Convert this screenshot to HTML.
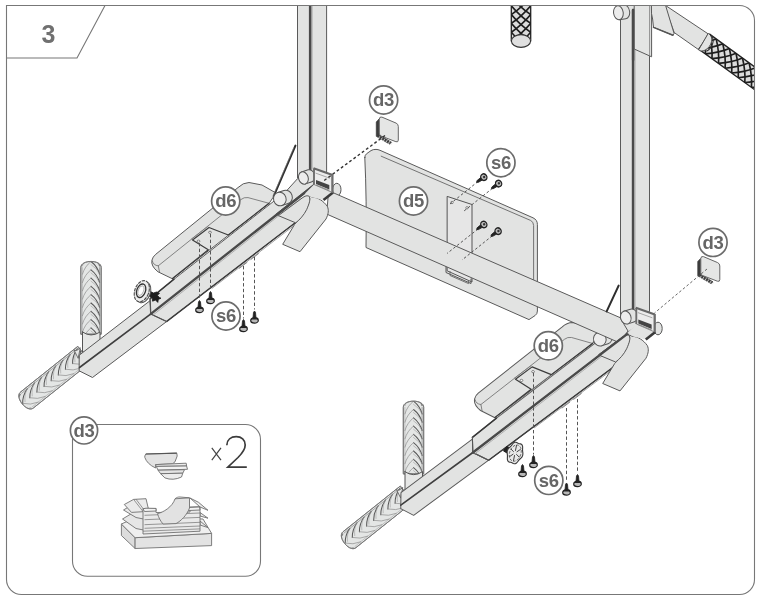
<!DOCTYPE html>
<html><head><meta charset="utf-8"><title>Step 3</title>
<style>html,body{margin:0;padding:0;background:#fff;}svg{display:block;}text{-webkit-font-smoothing:antialiased;}</style></head>
<body><svg width="762" height="600" viewBox="0 0 762 600">
<defs><filter id="gaa" x="-10%" y="-10%" width="120%" height="120%"><feColorMatrix type="matrix" values="1 0 0 0 0 0 1 0 0 0 0 0 1 0 0 0 0 0 1 0"/></filter></defs>
<rect width="762" height="600" fill="#fff"/>
<path d="M6.5,5.5 H739.5 A15,15 0 0 1 754.5,20.5 V579.5 A15,15 0 0 1 739.5,594.5 H21.5 A15,15 0 0 1 6.5,579.5 Z" fill="#fff" stroke="#777" stroke-width="1.1"/>
<path d="M6.5,58 H77 L105,5.5" fill="none" stroke="#777" stroke-width="1.1"/>
<text filter="url(#gaa)" x="48.5" y="43" text-anchor="middle" font-family="Liberation Sans, sans-serif" font-weight="bold" font-size="25" fill="#707070">3</text>
<clipPath id="fr"><path d="M7,6 H739.5 A14.5,14.5 0 0 1 754,20.5 V579.5 A14.5,14.5 0 0 1 739.5,594 H21.5 A14.5,14.5 0 0 1 7,579.5 Z"/></clipPath>
<g clip-path="url(#fr)">
<clipPath id="hg1"><path d="M511.3,-3.0 L511.3,41.0 L530.7,41.0 L530.7,-3.0 Z"/></clipPath>
<path d="M511.3,-3.0 L511.3,41.0 L530.7,41.0 L530.7,-3.0 Z" fill="#dcdcdc" stroke="#222" stroke-width="1.3" stroke-linejoin="round" stroke-linecap="round" />
<g clip-path="url(#hg1)" stroke="#1e1e1e" stroke-width="1.65" fill="none">
<path d="M511.3,-29.4 Q521.0,-18.1 530.7,-11.8"/>
<path d="M530.7,-29.4 Q521.0,-18.1 511.3,-11.8"/>
<path d="M511.3,-20.6 Q521.0,-9.3 530.7,-3.0"/>
<path d="M530.7,-20.6 Q521.0,-9.3 511.3,-3.0"/>
<path d="M511.3,-11.8 Q521.0,-0.5 530.7,5.8"/>
<path d="M530.7,-11.8 Q521.0,-0.5 511.3,5.8"/>
<path d="M511.3,-3.0 Q521.0,8.3 530.7,14.6"/>
<path d="M530.7,-3.0 Q521.0,8.3 511.3,14.6"/>
<path d="M511.3,5.8 Q521.0,17.1 530.7,23.4"/>
<path d="M530.7,5.8 Q521.0,17.1 511.3,23.4"/>
<path d="M511.3,14.6 Q521.0,25.9 530.7,32.2"/>
<path d="M530.7,14.6 Q521.0,25.9 511.3,32.2"/>
<path d="M511.3,23.4 Q521.0,34.7 530.7,41.0"/>
<path d="M530.7,23.4 Q521.0,34.7 511.3,41.0"/>
<path d="M511.3,32.2 Q521.0,43.5 530.7,49.8"/>
<path d="M530.7,32.2 Q521.0,43.5 511.3,49.8"/>
<path d="M511.3,41.0 Q521.0,52.3 530.7,58.6"/>
<path d="M530.7,41.0 Q521.0,52.3 511.3,58.6"/>
<path d="M511.3,49.8 Q521.0,61.1 530.7,67.4"/>
<path d="M530.7,49.8 Q521.0,61.1 511.3,67.4"/>
</g>
<ellipse cx="521" cy="41" rx="9.6" ry="6.4" fill="#e0e0e0" stroke="#333" stroke-width="1.1"/>
<path d="M364.8,157.5 Q364.6,155.5 366.5,153.8 L371,150.6 Q373,149.3 376,149.4 Q378,149.4 380,150.3 L533,217.8 Q537.4,219.8 537.4,224.5 L537.4,311 Q537.4,314 535,315.6 L529,319.6 L366,247.5 Q366.8,200 364.8,157.5 Z" fill="#e2e3e2" stroke="#5a5a5a" stroke-width="1" stroke-linejoin="round" stroke-linecap="round" />
<path d="M381.2,156.2 L530.5,220.4 Q533.6,221.8 533.6,225.5 L533.6,282" fill="none" stroke="#666" stroke-width="0.9" stroke-linejoin="round" stroke-linecap="round" />
<path d="M447.5,196.5 L472,204.5 L472,282 L447.5,271 Z" fill="#e6e6e6" stroke="#555" stroke-width="1" stroke-linejoin="round" stroke-linecap="round" />
<circle cx="452" cy="202.5" r="1.2" fill="#fff" stroke="#555" stroke-width="0.7"/>
<circle cx="467" cy="207.8" r="1.2" fill="#fff" stroke="#555" stroke-width="0.7"/>
<path d="M446,266 L446,272.5 L471,283.5 L471,279" fill="none" stroke="#555" stroke-width="1" stroke-linejoin="round" stroke-linecap="round" />
<path d="M450,271.5 L450,275.5 L468.5,283.6 L468.5,281" fill="none" stroke="#666" stroke-width="0.9" stroke-linejoin="round" stroke-linecap="round" />
<clipPath id="gc84_354_27"><path d="M77.6,346.5 L20.6,392.0 C14.2,397.1 27.0,413.1 33.4,408.0 L90.4,362.5 Z"/></clipPath>
<path d="M77.6,346.5 L20.6,392.0 C14.2,397.1 27.0,413.1 33.4,408.0 L90.4,362.5 Z" fill="#e4e6e5" stroke="#777" stroke-width="0.9" stroke-linejoin="round" stroke-linecap="round" />
<g clip-path="url(#gc84_354_27)" fill="none" stroke-linejoin="round" stroke-linecap="round">
<line x1="89.4" y1="361.2" x2="32.4" y2="406.7" stroke="#a8a8a8" stroke-width="0.6"/>
<line x1="78.6" y1="347.8" x2="21.6" y2="393.3" stroke="#8a8a8a" stroke-width="0.7"/>
<path d="M84.3,343.2 Q79.5,349.9 79.7,357.9" stroke="#585858" stroke-width="1.05"/>
<path d="M84.3,343.2 Q81.2,348.6 82.0,356.1" stroke="#a0a0a0" stroke-width="0.6"/>
<path d="M79.7,357.9 Q87.5,359.9 95.1,356.7" stroke="#8c8c8c" stroke-width="0.7"/>
<path d="M77.2,348.9 Q72.4,355.6 72.6,363.6" stroke="#585858" stroke-width="1.05"/>
<path d="M77.2,348.9 Q74.1,354.3 74.9,361.8" stroke="#a0a0a0" stroke-width="0.6"/>
<path d="M72.6,363.6 Q80.3,365.6 87.9,362.4" stroke="#8c8c8c" stroke-width="0.7"/>
<path d="M70.1,354.6 Q65.3,361.3 65.4,369.3" stroke="#585858" stroke-width="1.05"/>
<path d="M70.1,354.6 Q67.0,359.9 67.8,367.4" stroke="#a0a0a0" stroke-width="0.6"/>
<path d="M65.4,369.3 Q73.2,371.2 80.8,368.1" stroke="#8c8c8c" stroke-width="0.7"/>
<path d="M63.0,360.3 Q58.2,367.0 58.3,375.0" stroke="#585858" stroke-width="1.05"/>
<path d="M63.0,360.3 Q59.9,365.6 60.7,373.1" stroke="#a0a0a0" stroke-width="0.6"/>
<path d="M58.3,375.0 Q66.1,376.9 73.7,373.7" stroke="#8c8c8c" stroke-width="0.7"/>
<path d="M55.8,366.0 Q51.0,372.7 51.2,380.7" stroke="#585858" stroke-width="1.05"/>
<path d="M55.8,366.0 Q52.7,371.3 53.5,378.8" stroke="#a0a0a0" stroke-width="0.6"/>
<path d="M51.2,380.7 Q59.0,382.6 66.6,379.4" stroke="#8c8c8c" stroke-width="0.7"/>
<path d="M48.7,371.7 Q43.9,378.4 44.1,386.4" stroke="#585858" stroke-width="1.05"/>
<path d="M48.7,371.7 Q45.6,377.0 46.4,384.5" stroke="#a0a0a0" stroke-width="0.6"/>
<path d="M44.1,386.4 Q51.8,388.3 59.4,385.1" stroke="#8c8c8c" stroke-width="0.7"/>
<path d="M41.6,377.3 Q36.8,384.1 36.9,392.1" stroke="#585858" stroke-width="1.05"/>
<path d="M41.6,377.3 Q38.5,382.7 39.3,390.2" stroke="#a0a0a0" stroke-width="0.6"/>
<path d="M36.9,392.1 Q44.7,394.0 52.3,390.8" stroke="#8c8c8c" stroke-width="0.7"/>
<path d="M34.5,383.0 Q29.7,389.8 29.8,397.8" stroke="#585858" stroke-width="1.05"/>
<path d="M34.5,383.0 Q31.4,388.4 32.2,395.9" stroke="#a0a0a0" stroke-width="0.6"/>
<path d="M29.8,397.8 Q37.6,399.7 45.2,396.5" stroke="#8c8c8c" stroke-width="0.7"/>
<path d="M27.3,388.7 Q22.5,395.4 22.7,403.4" stroke="#585858" stroke-width="1.05"/>
<path d="M27.3,388.7 Q24.2,394.1 25.0,401.6" stroke="#a0a0a0" stroke-width="0.6"/>
<path d="M22.7,403.4 Q30.5,405.4 38.1,402.2" stroke="#8c8c8c" stroke-width="0.7"/>
<path d="M20.2,394.4 Q15.4,401.1 15.6,409.1" stroke="#585858" stroke-width="1.05"/>
<path d="M20.2,394.4 Q17.1,399.8 17.9,407.3" stroke="#a0a0a0" stroke-width="0.6"/>
<path d="M15.6,409.1 Q23.3,411.1 30.9,407.9" stroke="#8c8c8c" stroke-width="0.7"/>
</g>
<path d="M77.6,346.5 L20.6,392.0 C14.2,397.1 27.0,413.1 33.4,408.0 L90.4,362.5 Z" fill="none" stroke="#777" stroke-width="0.9"/>
<clipPath id="gc91_334_91"><path d="M101.2,334.0 L101.2,267.6 C101.2,259.4 80.8,259.4 80.8,267.6 L80.8,334.0 Z"/></clipPath>
<path d="M101.2,334.0 L101.2,267.6 C101.2,259.4 80.8,259.4 80.8,267.6 L80.8,334.0 Z" fill="#e4e6e5" stroke="#777" stroke-width="0.9" stroke-linejoin="round" stroke-linecap="round" />
<g clip-path="url(#gc91_334_91)" fill="none" stroke-linejoin="round" stroke-linecap="round">
<line x1="82.4" y1="334.0" x2="82.4" y2="267.6" stroke="#a8a8a8" stroke-width="0.6"/>
<line x1="99.6" y1="334.0" x2="99.6" y2="267.6" stroke="#8a8a8a" stroke-width="0.7"/>
<path d="M99.6,340.6 Q97.3,332.7 91.0,327.9" stroke="#585858" stroke-width="1.05"/>
<path d="M99.6,340.6 Q97.3,334.9 91.0,330.9" stroke="#a0a0a0" stroke-width="0.6"/>
<path d="M91.0,327.9 Q84.7,332.7 82.4,340.6" stroke="#8c8c8c" stroke-width="0.7"/>
<path d="M99.6,332.3 Q97.3,324.4 91.0,319.6" stroke="#585858" stroke-width="1.05"/>
<path d="M99.6,332.3 Q97.3,326.6 91.0,322.6" stroke="#a0a0a0" stroke-width="0.6"/>
<path d="M91.0,319.6 Q84.7,324.4 82.4,332.3" stroke="#8c8c8c" stroke-width="0.7"/>
<path d="M99.6,324.0 Q97.3,316.1 91.0,311.3" stroke="#585858" stroke-width="1.05"/>
<path d="M99.6,324.0 Q97.3,318.3 91.0,314.3" stroke="#a0a0a0" stroke-width="0.6"/>
<path d="M91.0,311.3 Q84.7,316.1 82.4,324.0" stroke="#8c8c8c" stroke-width="0.7"/>
<path d="M99.6,315.7 Q97.3,307.8 91.0,303.0" stroke="#585858" stroke-width="1.05"/>
<path d="M99.6,315.7 Q97.3,310.0 91.0,306.0" stroke="#a0a0a0" stroke-width="0.6"/>
<path d="M91.0,303.0 Q84.7,307.8 82.4,315.7" stroke="#8c8c8c" stroke-width="0.7"/>
<path d="M99.6,307.4 Q97.3,299.5 91.0,294.7" stroke="#585858" stroke-width="1.05"/>
<path d="M99.6,307.4 Q97.3,301.7 91.0,297.7" stroke="#a0a0a0" stroke-width="0.6"/>
<path d="M91.0,294.7 Q84.7,299.5 82.4,307.4" stroke="#8c8c8c" stroke-width="0.7"/>
<path d="M99.6,299.1 Q97.3,291.2 91.0,286.4" stroke="#585858" stroke-width="1.05"/>
<path d="M99.6,299.1 Q97.3,293.4 91.0,289.4" stroke="#a0a0a0" stroke-width="0.6"/>
<path d="M91.0,286.4 Q84.7,291.2 82.4,299.1" stroke="#8c8c8c" stroke-width="0.7"/>
<path d="M99.6,290.8 Q97.3,282.9 91.0,278.1" stroke="#585858" stroke-width="1.05"/>
<path d="M99.6,290.8 Q97.3,285.1 91.0,281.1" stroke="#a0a0a0" stroke-width="0.6"/>
<path d="M91.0,278.1 Q84.7,282.9 82.4,290.8" stroke="#8c8c8c" stroke-width="0.7"/>
<path d="M99.6,282.5 Q97.3,274.6 91.0,269.8" stroke="#585858" stroke-width="1.05"/>
<path d="M99.6,282.5 Q97.3,276.8 91.0,272.8" stroke="#a0a0a0" stroke-width="0.6"/>
<path d="M91.0,269.8 Q84.7,274.6 82.4,282.5" stroke="#8c8c8c" stroke-width="0.7"/>
<path d="M99.6,274.2 Q97.3,266.3 91.0,261.5" stroke="#585858" stroke-width="1.05"/>
<path d="M99.6,274.2 Q97.3,268.5 91.0,264.5" stroke="#a0a0a0" stroke-width="0.6"/>
<path d="M91.0,261.5 Q84.7,266.3 82.4,274.2" stroke="#8c8c8c" stroke-width="0.7"/>
<path d="M99.6,265.9 Q97.3,258.0 91.0,253.2" stroke="#585858" stroke-width="1.05"/>
<path d="M99.6,265.9 Q97.3,260.2 91.0,256.2" stroke="#a0a0a0" stroke-width="0.6"/>
<path d="M91.0,253.2 Q84.7,258.0 82.4,265.9" stroke="#8c8c8c" stroke-width="0.7"/>
</g>
<path d="M101.2,334.0 L101.2,267.6 C101.2,259.4 80.8,259.4 80.8,267.6 L80.8,334.0 Z" fill="none" stroke="#777" stroke-width="0.9"/>
<path d="M 82.5 332.0 L 82.5 352.0 L 100.0 352.0 L 100.0 332.0 Q 91.0 338.0 82.5 332.0 Z" fill="#e6e7e6" stroke="#555" stroke-width="1" stroke-linejoin="round" stroke-linecap="round" />
<path d="M 80.0 348.0 Q 76.0 352.0 74.0 350.0 L 78.0 358.0 Z" fill="#e6e7e6" stroke="#555" stroke-width="0.8" stroke-linejoin="round" stroke-linecap="round" />
<clipPath id="gc406_494_349"><path d="M400.1,486.2 L343.1,531.7 C336.7,536.8 349.5,552.8 355.9,547.7 L412.9,502.2 Z"/></clipPath>
<path d="M400.1,486.2 L343.1,531.7 C336.7,536.8 349.5,552.8 355.9,547.7 L412.9,502.2 Z" fill="#e4e6e5" stroke="#777" stroke-width="0.9" stroke-linejoin="round" stroke-linecap="round" />
<g clip-path="url(#gc406_494_349)" fill="none" stroke-linejoin="round" stroke-linecap="round">
<line x1="411.9" y1="500.9" x2="354.9" y2="546.4" stroke="#a8a8a8" stroke-width="0.6"/>
<line x1="401.1" y1="487.5" x2="344.1" y2="533.0" stroke="#8a8a8a" stroke-width="0.7"/>
<path d="M406.8,482.9 Q402.0,489.6 402.2,497.6" stroke="#585858" stroke-width="1.05"/>
<path d="M406.8,482.9 Q403.7,488.3 404.5,495.8" stroke="#a0a0a0" stroke-width="0.6"/>
<path d="M402.2,497.6 Q410.0,499.6 417.6,496.4" stroke="#8c8c8c" stroke-width="0.7"/>
<path d="M399.7,488.6 Q394.9,495.3 395.1,503.3" stroke="#585858" stroke-width="1.05"/>
<path d="M399.7,488.6 Q396.6,494.0 397.4,501.5" stroke="#a0a0a0" stroke-width="0.6"/>
<path d="M395.1,503.3 Q402.8,505.3 410.4,502.1" stroke="#8c8c8c" stroke-width="0.7"/>
<path d="M392.6,494.3 Q387.8,501.0 387.9,509.0" stroke="#585858" stroke-width="1.05"/>
<path d="M392.6,494.3 Q389.5,499.6 390.3,507.1" stroke="#a0a0a0" stroke-width="0.6"/>
<path d="M387.9,509.0 Q395.7,510.9 403.3,507.8" stroke="#8c8c8c" stroke-width="0.7"/>
<path d="M385.5,500.0 Q380.7,506.7 380.8,514.7" stroke="#585858" stroke-width="1.05"/>
<path d="M385.5,500.0 Q382.4,505.3 383.2,512.8" stroke="#a0a0a0" stroke-width="0.6"/>
<path d="M380.8,514.7 Q388.6,516.6 396.2,513.4" stroke="#8c8c8c" stroke-width="0.7"/>
<path d="M378.3,505.7 Q373.5,512.4 373.7,520.4" stroke="#585858" stroke-width="1.05"/>
<path d="M378.3,505.7 Q375.2,511.0 376.0,518.5" stroke="#a0a0a0" stroke-width="0.6"/>
<path d="M373.7,520.4 Q381.5,522.3 389.1,519.1" stroke="#8c8c8c" stroke-width="0.7"/>
<path d="M371.2,511.4 Q366.4,518.1 366.6,526.1" stroke="#585858" stroke-width="1.05"/>
<path d="M371.2,511.4 Q368.1,516.7 368.9,524.2" stroke="#a0a0a0" stroke-width="0.6"/>
<path d="M366.6,526.1 Q374.3,528.0 381.9,524.8" stroke="#8c8c8c" stroke-width="0.7"/>
<path d="M364.1,517.0 Q359.3,523.8 359.4,531.8" stroke="#585858" stroke-width="1.05"/>
<path d="M364.1,517.0 Q361.0,522.4 361.8,529.9" stroke="#a0a0a0" stroke-width="0.6"/>
<path d="M359.4,531.8 Q367.2,533.7 374.8,530.5" stroke="#8c8c8c" stroke-width="0.7"/>
<path d="M357.0,522.7 Q352.2,529.5 352.3,537.5" stroke="#585858" stroke-width="1.05"/>
<path d="M357.0,522.7 Q353.9,528.1 354.7,535.6" stroke="#a0a0a0" stroke-width="0.6"/>
<path d="M352.3,537.5 Q360.1,539.4 367.7,536.2" stroke="#8c8c8c" stroke-width="0.7"/>
<path d="M349.8,528.4 Q345.0,535.1 345.2,543.1" stroke="#585858" stroke-width="1.05"/>
<path d="M349.8,528.4 Q346.7,533.8 347.5,541.3" stroke="#a0a0a0" stroke-width="0.6"/>
<path d="M345.2,543.1 Q353.0,545.1 360.6,541.9" stroke="#8c8c8c" stroke-width="0.7"/>
<path d="M342.7,534.1 Q337.9,540.8 338.1,548.8" stroke="#585858" stroke-width="1.05"/>
<path d="M342.7,534.1 Q339.6,539.5 340.4,547.0" stroke="#a0a0a0" stroke-width="0.6"/>
<path d="M338.1,548.8 Q345.8,550.8 353.4,547.6" stroke="#8c8c8c" stroke-width="0.7"/>
</g>
<path d="M400.1,486.2 L343.1,531.7 C336.7,536.8 349.5,552.8 355.9,547.7 L412.9,502.2 Z" fill="none" stroke="#777" stroke-width="0.9"/>
<clipPath id="gc413_473_413"><path d="M423.7,473.7 L423.7,407.3 C423.7,399.1 403.3,399.1 403.3,407.3 L403.3,473.7 Z"/></clipPath>
<path d="M423.7,473.7 L423.7,407.3 C423.7,399.1 403.3,399.1 403.3,407.3 L403.3,473.7 Z" fill="#e4e6e5" stroke="#777" stroke-width="0.9" stroke-linejoin="round" stroke-linecap="round" />
<g clip-path="url(#gc413_473_413)" fill="none" stroke-linejoin="round" stroke-linecap="round">
<line x1="404.9" y1="473.7" x2="404.9" y2="407.3" stroke="#a8a8a8" stroke-width="0.6"/>
<line x1="422.1" y1="473.7" x2="422.1" y2="407.3" stroke="#8a8a8a" stroke-width="0.7"/>
<path d="M422.1,480.3 Q419.8,472.4 413.5,467.6" stroke="#585858" stroke-width="1.05"/>
<path d="M422.1,480.3 Q419.8,474.6 413.5,470.6" stroke="#a0a0a0" stroke-width="0.6"/>
<path d="M413.5,467.6 Q407.2,472.4 404.9,480.3" stroke="#8c8c8c" stroke-width="0.7"/>
<path d="M422.1,472.0 Q419.8,464.1 413.5,459.3" stroke="#585858" stroke-width="1.05"/>
<path d="M422.1,472.0 Q419.8,466.3 413.5,462.3" stroke="#a0a0a0" stroke-width="0.6"/>
<path d="M413.5,459.3 Q407.2,464.1 404.9,472.0" stroke="#8c8c8c" stroke-width="0.7"/>
<path d="M422.1,463.7 Q419.8,455.8 413.5,451.0" stroke="#585858" stroke-width="1.05"/>
<path d="M422.1,463.7 Q419.8,458.0 413.5,454.0" stroke="#a0a0a0" stroke-width="0.6"/>
<path d="M413.5,451.0 Q407.2,455.8 404.9,463.7" stroke="#8c8c8c" stroke-width="0.7"/>
<path d="M422.1,455.4 Q419.8,447.5 413.5,442.7" stroke="#585858" stroke-width="1.05"/>
<path d="M422.1,455.4 Q419.8,449.7 413.5,445.7" stroke="#a0a0a0" stroke-width="0.6"/>
<path d="M413.5,442.7 Q407.2,447.5 404.9,455.4" stroke="#8c8c8c" stroke-width="0.7"/>
<path d="M422.1,447.1 Q419.8,439.2 413.5,434.4" stroke="#585858" stroke-width="1.05"/>
<path d="M422.1,447.1 Q419.8,441.4 413.5,437.4" stroke="#a0a0a0" stroke-width="0.6"/>
<path d="M413.5,434.4 Q407.2,439.2 404.9,447.1" stroke="#8c8c8c" stroke-width="0.7"/>
<path d="M422.1,438.8 Q419.8,430.9 413.5,426.1" stroke="#585858" stroke-width="1.05"/>
<path d="M422.1,438.8 Q419.8,433.1 413.5,429.1" stroke="#a0a0a0" stroke-width="0.6"/>
<path d="M413.5,426.1 Q407.2,430.9 404.9,438.8" stroke="#8c8c8c" stroke-width="0.7"/>
<path d="M422.1,430.5 Q419.8,422.6 413.5,417.8" stroke="#585858" stroke-width="1.05"/>
<path d="M422.1,430.5 Q419.8,424.8 413.5,420.8" stroke="#a0a0a0" stroke-width="0.6"/>
<path d="M413.5,417.8 Q407.2,422.6 404.9,430.5" stroke="#8c8c8c" stroke-width="0.7"/>
<path d="M422.1,422.2 Q419.8,414.3 413.5,409.5" stroke="#585858" stroke-width="1.05"/>
<path d="M422.1,422.2 Q419.8,416.5 413.5,412.5" stroke="#a0a0a0" stroke-width="0.6"/>
<path d="M413.5,409.5 Q407.2,414.3 404.9,422.2" stroke="#8c8c8c" stroke-width="0.7"/>
<path d="M422.1,413.9 Q419.8,406.0 413.5,401.2" stroke="#585858" stroke-width="1.05"/>
<path d="M422.1,413.9 Q419.8,408.2 413.5,404.2" stroke="#a0a0a0" stroke-width="0.6"/>
<path d="M413.5,401.2 Q407.2,406.0 404.9,413.9" stroke="#8c8c8c" stroke-width="0.7"/>
<path d="M422.1,405.6 Q419.8,397.7 413.5,392.9" stroke="#585858" stroke-width="1.05"/>
<path d="M422.1,405.6 Q419.8,399.9 413.5,395.9" stroke="#a0a0a0" stroke-width="0.6"/>
<path d="M413.5,392.9 Q407.2,397.7 404.9,405.6" stroke="#8c8c8c" stroke-width="0.7"/>
</g>
<path d="M423.7,473.7 L423.7,407.3 C423.7,399.1 403.3,399.1 403.3,407.3 L403.3,473.7 Z" fill="none" stroke="#777" stroke-width="0.9"/>
<path d="M 405.0 471.7 L 405.0 491.7 L 422.5 491.7 L 422.5 471.7 Q 413.5 477.7 405.0 471.7 Z" fill="#e6e7e6" stroke="#555" stroke-width="1" stroke-linejoin="round" stroke-linecap="round" />
<path d="M 402.5 487.7 Q 398.5 491.7 396.5 489.7 L 400.5 497.7 Z" fill="#e6e7e6" stroke="#555" stroke-width="0.8" stroke-linejoin="round" stroke-linecap="round" />
<path d="M 238.3 187.3 Q 243.0 182.6 249.0 182.5 L 262.0 185.0 L 276.0 193.0 L 269.0 203.5 L 172.5 278.8L 158.0 271.8 Q 150.5 266.0 152.0 260.0 Q 152.6 257.0 155.5 254.5 Z" fill="#e2e3e2" stroke="#5a5a5a" stroke-width="1" stroke-linejoin="round" stroke-linecap="round" />
<path d="M 158.3 265.8 L 241.0 199.5 Q 244.0 197.0 248.0 197.6 L 269.0 203.3" fill="none" stroke="#6a6a6a" stroke-width="0.8" stroke-linejoin="round" stroke-linecap="round" />
<path d="M 152.3 261.0 Q 153.5 265.5 158.3 265.8 L 159.5 272.0" fill="none" stroke="#6a6a6a" stroke-width="0.8" stroke-linejoin="round" stroke-linecap="round" />
<path d="M 79.5 355.0 L 150.2 300.6 L 150.9 313.9 L 166.8 321.4 L 92.5 377.5 L 79.5 371.0 Z" fill="#e2e3e2" stroke="#5a5a5a" stroke-width="1" stroke-linejoin="round" stroke-linecap="round" />
<line x1="79.5" y1="367.5" x2="150.9" y2="313.9" stroke="#3f3f3f" stroke-width="1.6" stroke-linecap="round" />
<path d="M 150.2 298.7 L 174.0 279.2 L 285.0 192.5 L 297.6 178.6 L 312.0 178.0 L 314.5 184.9 L 150.9 313.9 Z" fill="#e2e3e2" stroke="#5a5a5a" stroke-width="1" stroke-linejoin="round" stroke-linecap="round" />
<path d="M 150.9 313.9 L 314.5 184.9 L 300.0 215.0 L 294.6 223.3 L 166.8 321.4 Z" fill="#e2e3e2" stroke="#5a5a5a" stroke-width="1" stroke-linejoin="round" stroke-linecap="round" />
<path d="M 212.0 288.4 L 293.5 226.0" fill="none" stroke="#8a8a8a" stroke-width="0.8" stroke-linejoin="round" stroke-linecap="round" />
<path d="M 239.5 268.2 L 247.0 262.4 M 251.0 259.4 L 258.5 253.6" fill="none" stroke="#777" stroke-width="0.9" stroke-linejoin="round" stroke-linecap="round" />
<path d="M 150.2 298.7 L 174.0 279.2" fill="none" stroke="#383838" stroke-width="1.5" stroke-linejoin="round" stroke-linecap="round" />
<path d="M 166.8 321.4 L 294.6 223.3" fill="none" stroke="#3c3c3c" stroke-width="1.4" stroke-linejoin="round" stroke-linecap="round" />
<path d="M 150.2 298.7 L 150.9 313.9 L 166.8 321.4" fill="none" stroke="#555" stroke-width="1" stroke-linejoin="round" stroke-linecap="round" />
<line x1="150.9" y1="313.9" x2="314.5" y2="184.9" stroke="#4a4a4a" stroke-width="2.4" stroke-linecap="round" />
<line x1="152.6" y1="315.4" x2="300" y2="199" stroke="#9a9a9a" stroke-width="0.7" stroke-linecap="round" />
<path d="M 269.0 203.3 L 228.3 235.0 L 209.0 227.5 L 192.5 240.0 L 208.3 249.8 L 172.5 278.5" fill="none" stroke="#3c3c3c" stroke-width="1.2" stroke-linejoin="round" stroke-linecap="round" />
<path d="M 208.0 226.4 L 191.4 239.0" fill="none" stroke="#777" stroke-width="0.7" stroke-linejoin="round" stroke-linecap="round" />
<ellipse cx="210" cy="232.3" rx="1.4" ry="1.1" fill="#fff" stroke="#555" stroke-width="0.7"/>
<ellipse cx="198.5" cy="241.2" rx="1.4" ry="1.1" fill="#fff" stroke="#555" stroke-width="0.7"/>
<g transform="rotate(0.75 473 452) translate(322 138.6)">
<path d="M 238.3 187.3 Q 243.0 182.6 249.0 182.5 L 262.0 185.0 L 276.0 193.0 L 269.0 203.5 L 172.5 278.8L 158.0 271.8 Q 150.5 266.0 152.0 260.0 Q 152.6 257.0 155.5 254.5 Z" fill="#e2e3e2" stroke="#5a5a5a" stroke-width="1" stroke-linejoin="round" stroke-linecap="round" />
<path d="M 158.3 265.8 L 241.0 199.5 Q 244.0 197.0 248.0 197.6 L 269.0 203.3" fill="none" stroke="#6a6a6a" stroke-width="0.8" stroke-linejoin="round" stroke-linecap="round" />
<path d="M 152.3 261.0 Q 153.5 265.5 158.3 265.8 L 159.5 272.0" fill="none" stroke="#6a6a6a" stroke-width="0.8" stroke-linejoin="round" stroke-linecap="round" />
<path d="M 79.5 355.0 L 150.2 300.6 L 150.9 313.9 L 166.8 321.4 L 92.5 377.5 L 79.5 371.0 Z" fill="#e2e3e2" stroke="#5a5a5a" stroke-width="1" stroke-linejoin="round" stroke-linecap="round" />
<line x1="79.5" y1="367.5" x2="150.9" y2="313.9" stroke="#3f3f3f" stroke-width="1.6" stroke-linecap="round" />
<path d="M 150.2 298.7 L 174.0 279.2 L 285.0 192.5 L 297.6 178.6 L 312.0 178.0 L 314.5 184.9 L 150.9 313.9 Z" fill="#e2e3e2" stroke="#5a5a5a" stroke-width="1" stroke-linejoin="round" stroke-linecap="round" />
<path d="M 150.9 313.9 L 314.5 184.9 L 300.0 215.0 L 294.6 223.3 L 166.8 321.4 Z" fill="#e2e3e2" stroke="#5a5a5a" stroke-width="1" stroke-linejoin="round" stroke-linecap="round" />
<path d="M 212.0 288.4 L 293.5 226.0" fill="none" stroke="#8a8a8a" stroke-width="0.8" stroke-linejoin="round" stroke-linecap="round" />
<path d="M 239.5 268.2 L 247.0 262.4 M 251.0 259.4 L 258.5 253.6" fill="none" stroke="#777" stroke-width="0.9" stroke-linejoin="round" stroke-linecap="round" />
<path d="M 150.2 298.7 L 174.0 279.2" fill="none" stroke="#383838" stroke-width="1.5" stroke-linejoin="round" stroke-linecap="round" />
<path d="M 166.8 321.4 L 294.6 223.3" fill="none" stroke="#3c3c3c" stroke-width="1.4" stroke-linejoin="round" stroke-linecap="round" />
<path d="M 150.2 298.7 L 150.9 313.9 L 166.8 321.4" fill="none" stroke="#555" stroke-width="1" stroke-linejoin="round" stroke-linecap="round" />
<line x1="150.9" y1="313.9" x2="314.5" y2="184.9" stroke="#4a4a4a" stroke-width="2.4" stroke-linecap="round" />
<line x1="152.6" y1="315.4" x2="300" y2="199" stroke="#9a9a9a" stroke-width="0.7" stroke-linecap="round" />
<path d="M 269.0 203.3 L 228.3 235.0 L 209.0 227.5 L 192.5 240.0 L 208.3 249.8 L 172.5 278.5" fill="none" stroke="#3c3c3c" stroke-width="1.2" stroke-linejoin="round" stroke-linecap="round" />
<path d="M 208.0 226.4 L 191.4 239.0" fill="none" stroke="#777" stroke-width="0.7" stroke-linejoin="round" stroke-linecap="round" />
<ellipse cx="210" cy="232.3" rx="1.4" ry="1.1" fill="#fff" stroke="#555" stroke-width="0.7"/>
<ellipse cx="198.5" cy="241.2" rx="1.4" ry="1.1" fill="#fff" stroke="#555" stroke-width="0.7"/>
</g>
<g transform="translate(599.8,339.2) rotate(-18)">
<path d="M0,-6.8 L6.5,-6.8 A6.3,6.8 0 0 1 6.5,6.8 L0,6.8 Z" fill="#e2e3e2" stroke="#555" stroke-width="1"/>
<ellipse cx="0" cy="0" rx="6.3" ry="6.8" fill="#ececec" stroke="#555" stroke-width="1"/>
</g>
<ellipse cx="336.8" cy="189.6" rx="4.2" ry="6.3" fill="#e2e3e2" stroke="#555" stroke-width="1"/>
<path d="M329,190.9 L620,317.6 L628,331 L619,342.6 L327,214.2 Z" fill="#e2e3e2" stroke="#5a5a5a" stroke-width="1" stroke-linejoin="round" stroke-linecap="round" />
<path d="M 308.7 195.7 L 312.0 197.0 C 318.0 197.5 323.0 200.5 327.3 206.3 C 329.0 210.0 328.5 214.0 326.0 219.0 L 300.0 251.7 L 282.7 244.3 L 294.7 224.3 C 301.0 218.0 306.0 211.0 308.5 204.0 C 310.3 199.5 310.0 197.0 308.7 195.7 Z" fill="#e2e3e2" stroke="#5a5a5a" stroke-width="1" stroke-linejoin="round" stroke-linecap="round" />
<path d="M 278.7 215.4 L 303.0 197.4 C 306.0 195.4 308.4 195.2 309.3 196.8 C 310.5 199.5 309.5 203.0 306.7 209.5 C 304.0 215.0 299.5 220.0 296.0 222.6 Z" fill="#e2e3e2" stroke="#5a5a5a" stroke-width="1" stroke-linejoin="round" stroke-linecap="round" />
<path d="M 628.7 334.9 L 632.0 336.2 C 638.0 336.7 643.0 339.7 647.3 345.5 C 649.0 349.2 648.5 353.2 646.0 358.2 L 620.0 390.9 L 602.7 383.5 L 614.7 363.5 C 621.0 357.2 626.0 350.2 628.5 343.2 C 630.3 338.7 630.0 336.2 628.7 334.9 Z" fill="#e2e3e2" stroke="#5a5a5a" stroke-width="1" stroke-linejoin="round" stroke-linecap="round" />
<path d="M 598.7 354.6 L 623.0 336.6 C 626.0 334.6 628.4 334.4 629.3 336.0 C 630.5 338.7 629.5 342.2 626.7 348.7 C 624.0 354.2 619.5 359.2 616.0 361.8 Z" fill="#e2e3e2" stroke="#5a5a5a" stroke-width="1" stroke-linejoin="round" stroke-linecap="round" />
<line x1="277" y1="214.4" x2="314.5" y2="184.9" stroke="#4a4a4a" stroke-width="2.4" stroke-linecap="round" />
<g transform="rotate(0.75 473 452) translate(322 138.6)">
<line x1="277" y1="214.4" x2="314.5" y2="184.9" stroke="#4a4a4a" stroke-width="2.4" stroke-linecap="round" />
</g>
<path d="M297.5,0 L297.5,178 L310.5,182 L326.6,172 L326.6,0 Z" fill="#e2e3e2" stroke="#5a5a5a" stroke-width="1" stroke-linejoin="round" stroke-linecap="round" />
<line x1="310.2" y1="0" x2="310.2" y2="170" stroke="#4a4a4a" stroke-width="2.6" stroke-linecap="round" />
<line x1="312.3" y1="0" x2="312.3" y2="169" stroke="#b0b0b0" stroke-width="0.8" stroke-linecap="round" />
<line x1="295.5" y1="145.5" x2="273.8" y2="196" stroke="#2e2e2e" stroke-width="1.9" stroke-linecap="round" />
<line x1="293.6" y1="148" x2="272.8" y2="196.5" stroke="#888" stroke-width="0.6" stroke-linecap="round" />
<path d="M620.5,0 L620.5,317.5 L633.5,321.5 L649.5,311.5 L649.5,0 Z" fill="#e2e3e2" stroke="#5a5a5a" stroke-width="1" stroke-linejoin="round" stroke-linecap="round" />
<line x1="633.1" y1="10" x2="633.1" y2="309.5" stroke="#4a4a4a" stroke-width="2.6" stroke-linecap="round" />
<line x1="635.2" y1="10" x2="635.2" y2="308.5" stroke="#b0b0b0" stroke-width="0.8" stroke-linecap="round" />
<line x1="618.7" y1="285.5" x2="606.6" y2="311.5" stroke="#2e2e2e" stroke-width="1.9" stroke-linecap="round" />
<path d="M634.2,0 L634.2,49 L651.6,56.8 L651.6,0 Z" fill="#e4e5e4" stroke="#5a5a5a" stroke-width="1" stroke-linejoin="round" stroke-linecap="round" />
<line x1="649.6" y1="5.5" x2="649.6" y2="55.8" stroke="#777" stroke-width="0.8" stroke-linecap="round" />
<line x1="633.1" y1="10" x2="633.1" y2="60" stroke="#4a4a4a" stroke-width="2.4" stroke-linecap="round" />
<path d="M664,0 L665.6,5.5 L708.2,33.9 L698.8,49.8 L674.2,32.5 L666,10 Z" fill="#e2e3e2" stroke="#5a5a5a" stroke-width="1" stroke-linejoin="round" stroke-linecap="round" />
<path d="M651.6,0 L665.6,0 L665.6,5.5 L674.2,33.9 L672.5,35.2 L653.5,27.2 L652.6,19 L651.6,14 Z" fill="#e2e3e2" stroke="#5a5a5a" stroke-width="1" stroke-linejoin="round" stroke-linecap="round" />
<line x1="653.5" y1="27.4" x2="673" y2="35.2" stroke="#555" stroke-width="1.5" stroke-linecap="round" />
<clipPath id="hg2"><path d="M698.8,49.1 L764.6,96.9 L775.4,81.9 L709.6,34.1 Z"/></clipPath>
<path d="M698.8,49.1 L764.6,96.9 L775.4,81.9 L709.6,34.1 Z" fill="#dcdcdc" stroke="#222" stroke-width="1.3" stroke-linejoin="round" stroke-linecap="round" />
<g clip-path="url(#hg2)" stroke="#1e1e1e" stroke-width="1.65" fill="none">
<path d="M679.0,34.7 Q693.1,33.5 703.1,29.3"/>
<path d="M689.9,19.8 Q693.1,33.5 692.2,44.3"/>
<path d="M685.6,39.5 Q699.6,38.3 709.6,34.1"/>
<path d="M696.5,24.6 Q699.6,38.3 698.8,49.1"/>
<path d="M692.2,44.3 Q706.2,43.1 716.2,38.9"/>
<path d="M703.1,29.3 Q706.2,43.1 705.3,53.9"/>
<path d="M698.8,49.1 Q712.8,47.8 722.8,43.7"/>
<path d="M709.6,34.1 Q712.8,47.8 711.9,58.6"/>
<path d="M705.3,53.9 Q719.4,52.6 729.4,48.5"/>
<path d="M716.2,38.9 Q719.4,52.6 718.5,63.4"/>
<path d="M711.9,58.6 Q726.0,57.4 736.0,53.2"/>
<path d="M722.8,43.7 Q726.0,57.4 725.1,68.2"/>
<path d="M718.5,63.4 Q732.5,62.2 742.5,58.0"/>
<path d="M729.4,48.5 Q732.5,62.2 731.7,73.0"/>
<path d="M725.1,68.2 Q739.1,67.0 749.1,62.8"/>
<path d="M736.0,53.2 Q739.1,67.0 738.2,77.8"/>
<path d="M731.7,73.0 Q745.7,71.7 755.7,67.6"/>
<path d="M742.5,58.0 Q745.7,71.7 744.8,82.5"/>
<path d="M738.2,77.8 Q752.3,76.5 762.3,72.4"/>
<path d="M749.1,62.8 Q752.3,76.5 751.4,87.3"/>
<path d="M744.8,82.5 Q758.9,81.3 768.9,77.1"/>
<path d="M755.7,67.6 Q758.9,81.3 758.0,92.1"/>
<path d="M751.4,87.3 Q765.4,86.1 775.4,81.9"/>
<path d="M762.3,72.4 Q765.4,86.1 764.6,96.9"/>
<path d="M758.0,92.1 Q772.0,90.9 782.0,86.7"/>
<path d="M768.9,77.1 Q772.0,90.9 771.1,101.7"/>
<path d="M764.6,96.9 Q778.6,95.6 788.6,91.5"/>
<path d="M775.4,81.9 Q778.6,95.6 777.7,106.4"/>
<path d="M771.1,101.7 Q785.2,100.4 795.2,96.3"/>
<path d="M782.0,86.7 Q785.2,100.4 784.3,111.2"/>
</g>
<path d="M708.2,33.4 C714.5,36.5 712,46.5 705,50.2 C702.5,51.5 699.5,51 698.6,49.9 Z" fill="#e2e3e2" stroke="#555" stroke-width="1"/>
<path d="M710.2,35 C715.5,38.5 713,48 706.5,51.2" fill="none" stroke="#333" stroke-width="1.1"/>
<g transform="translate(618.4,12.8) rotate(-8)">
<path d="M0,-7 L6.5,-7 A4.8,7 0 0 1 6.5,7 L0,7 Z" fill="#e2e3e2" stroke="#555" stroke-width="1"/>
<ellipse cx="0" cy="0" rx="4.8" ry="7" fill="#ececec" stroke="#555" stroke-width="1"/>
</g>
<g transform="translate(303.4,178) rotate(-18)">
<path d="M0,-6.3 L7,-6.3 A4.8,6.3 0 0 1 7,6.3 L0,6.3 Z" fill="#e2e3e2" stroke="#555" stroke-width="1"/>
<ellipse cx="0" cy="0" rx="4.8" ry="6.3" fill="#ececec" stroke="#555" stroke-width="1"/>
</g>
<g transform="translate(279.8,199) rotate(-18)">
<path d="M0,-6.8 L6.5,-6.8 A6.3,6.8 0 0 1 6.5,6.8 L0,6.8 Z" fill="#e2e3e2" stroke="#555" stroke-width="1"/>
<ellipse cx="0" cy="0" rx="6.3" ry="6.8" fill="#ececec" stroke="#555" stroke-width="1"/>
</g>
<g transform="translate(625.8,317.6) rotate(-18)">
<path d="M0,-6.6 L7,-6.6 A5.2,6.6 0 0 1 7,6.6 L0,6.6 Z" fill="#e2e3e2" stroke="#555" stroke-width="1"/>
<ellipse cx="0" cy="0" rx="5.2" ry="6.6" fill="#ececec" stroke="#555" stroke-width="1"/>
</g>
<ellipse cx="658" cy="328.5" rx="4.2" ry="6.3" fill="#e2e3e2" stroke="#555" stroke-width="1"/>
<g transform="translate(313,168.5)">
<path d="M1,16 L20,24 L10.5,31.5 L-2,28.5 L-8,25 Z" fill="#e2e3e2" stroke="none"/>
<path d="M20,24 L10.5,31.5" stroke="#3a3a3a" stroke-width="2.6" fill="none"/>
<path d="M1,0 L19.5,6.5 L19.5,24 L1,16 Z" fill="#ececec" stroke="none"/>
<path d="M3,11.6 L16.3,16.6 L16.3,21 L3,15.6 Z" fill="#444"/>
<path d="M3,15.8 L16.3,21.2 L16.3,22.6 L3,16.9 Z" fill="#999"/>
<path d="M2.6,4.6 L17,9.8" stroke="#888" stroke-width="0.7" fill="none"/>
<path d="M1,0 L1,16" stroke="#6e6e6e" stroke-width="1.9" fill="none"/>
<path d="M0.5,-0.3 L19.6,6.4" stroke="#666" stroke-width="2.1" fill="none"/>
<path d="M19.4,6 L19.4,24.2" stroke="#6e6e6e" stroke-width="2.3" fill="none"/>
<path d="M1,16 L18.5,23.6" stroke="#777" stroke-width="0.8" fill="none"/>
</g>
<g transform="translate(635.3,308)">
<path d="M1,16 L20,24 L10.5,31.5 L-2,28.5 L-8,25 Z" fill="#e2e3e2" stroke="none"/>
<path d="M20,24 L10.5,31.5" stroke="#3a3a3a" stroke-width="2.6" fill="none"/>
<path d="M1,0 L19.5,6.5 L19.5,24 L1,16 Z" fill="#ececec" stroke="none"/>
<path d="M3,11.6 L16.3,16.6 L16.3,21 L3,15.6 Z" fill="#444"/>
<path d="M3,15.8 L16.3,21.2 L16.3,22.6 L3,16.9 Z" fill="#999"/>
<path d="M2.6,4.6 L17,9.8" stroke="#888" stroke-width="0.7" fill="none"/>
<path d="M1,0 L1,16" stroke="#6e6e6e" stroke-width="1.9" fill="none"/>
<path d="M0.5,-0.3 L19.6,6.4" stroke="#666" stroke-width="2.1" fill="none"/>
<path d="M19.4,6 L19.4,24.2" stroke="#6e6e6e" stroke-width="2.3" fill="none"/>
<path d="M1,16 L18.5,23.6" stroke="#777" stroke-width="0.8" fill="none"/>
</g>
<path d="M150,291.3 L153.5,293 L156.5,292 L159.5,293.4 L157.3,295.2 L159.3,297.4 L161,298.2 L158.3,299.4 L157.8,302.4 L155.5,300 L152.6,301.2 L152.2,297.8 L149.6,296.4 Z" fill="#1e1e1e" stroke="#1e1e1e" stroke-width="0.8" stroke-linejoin="round"/>
<g transform="translate(141.8,291.2) rotate(20)">
<ellipse cx="2.2" cy="0.6" rx="6.6" ry="10.6" fill="#e2e2e2" stroke="#555" stroke-width="1"/>
<ellipse cx="0" cy="0" rx="7" ry="11" fill="#ededed" stroke="#4a4a4a" stroke-width="1.1" stroke-dasharray="3.4 0.9"/>
<ellipse cx="-0.8" cy="-0.2" rx="4.3" ry="7" fill="#f6f6f6" stroke="#333" stroke-width="1.3"/>
<ellipse cx="-1" cy="-0.2" rx="2.6" ry="5" fill="#fff" stroke="#888" stroke-width="0.6"/>
</g>
<path d="M503.5,451 L506.5,446.5 L510.5,448 L509,454 Z" fill="#222" stroke="#222" stroke-width="1"/>
<g transform="translate(515,453) rotate(20)">
<path d="M8.06,0.00 L7.85,1.47 L7.34,2.80 L6.72,3.96 L6.19,5.08 L5.77,6.30 L5.37,7.64 L4.82,8.93 L4.03,9.91 L3.03,10.40 L1.97,10.43 L0.95,10.25 L0.00,10.15 L-0.95,10.25 L-1.97,10.43 L-3.03,10.40 L-4.03,9.91 L-4.82,8.93 L-5.37,7.64 L-5.77,6.30 L-6.19,5.08 L-6.72,3.96 L-7.34,2.80 L-7.85,1.47 L-8.06,0.00 L-7.85,-1.47 L-7.34,-2.80 L-6.72,-3.96 L-6.19,-5.08 L-5.77,-6.30 L-5.37,-7.64 L-4.82,-8.93 L-4.03,-9.91 L-3.03,-10.40 L-1.97,-10.43 L-0.95,-10.25 L-0.00,-10.15 L0.95,-10.25 L1.97,-10.43 L3.03,-10.40 L4.03,-9.91 L4.82,-8.93 L5.37,-7.64 L5.77,-6.30 L6.19,-5.08 L6.72,-3.96 L7.34,-2.80 L7.85,-1.47 L8.06,-0.00 Z" fill="#e9e9e9" stroke="#3a3a3a" stroke-width="1.1"/>
<ellipse cx="0.3" cy="0" rx="5.6" ry="8.4" fill="none" stroke="#555" stroke-width="0.8" stroke-dasharray="2.5 1.4"/>
<line x1="1.53" y1="0.65" x2="5.35" y2="2.42" stroke="#444" stroke-width="0.9"/>
<line x1="0.35" y1="2.15" x2="1.24" y2="8.00" stroke="#444" stroke-width="0.9"/>
<line x1="-1.17" y1="1.50" x2="-4.11" y2="5.57" stroke="#444" stroke-width="0.9"/>
<line x1="-1.53" y1="-0.65" x2="-5.35" y2="-2.42" stroke="#444" stroke-width="0.9"/>
<line x1="-0.35" y1="-2.15" x2="-1.24" y2="-8.00" stroke="#444" stroke-width="0.9"/>
<line x1="1.17" y1="-1.50" x2="4.11" y2="-5.57" stroke="#444" stroke-width="0.9"/>
</g>
<g transform="translate(375.5,117.5)">
<path d="M0.8,4.5 L3.6,1.5 L3.8,17.5 L16,24.8 L14,26.6 L0.8,18.8 Z" fill="#3c3c3c" stroke="#3c3c3c" stroke-width="0.8" stroke-linejoin="round"/>
<line x1="4.4" y1="18.8" x2="2.6" y2="21.6" stroke="#e8e8e8" stroke-width="0.8"/>
<line x1="6.9" y1="20.0" x2="5.1" y2="22.8" stroke="#e8e8e8" stroke-width="0.8"/>
<line x1="9.4" y1="21.2" x2="7.6" y2="24.0" stroke="#e8e8e8" stroke-width="0.8"/>
<line x1="11.9" y1="22.4" x2="10.1" y2="25.2" stroke="#e8e8e8" stroke-width="0.8"/>
<line x1="14.4" y1="23.6" x2="12.6" y2="26.4" stroke="#e8e8e8" stroke-width="0.8"/>
<line x1="16.9" y1="24.8" x2="15.1" y2="27.6" stroke="#e8e8e8" stroke-width="0.8"/>
<path d="M3.8,1.6 Q3.9,-1.1 6.4,-0.4 L20.6,5.6 Q22.8,6.6 22.8,9 L22.8,22.6 Q22.8,25 20.4,24.2 L5.8,18.6 Q3.8,17.8 3.8,15.6 Z" fill="#e5e6e5" stroke="#666" stroke-width="1"/>
</g>
<g transform="translate(697,257)">
<path d="M0.8,4.5 L3.6,1.5 L3.8,17.5 L16,24.8 L14,26.6 L0.8,18.8 Z" fill="#3c3c3c" stroke="#3c3c3c" stroke-width="0.8" stroke-linejoin="round"/>
<line x1="4.4" y1="18.8" x2="2.6" y2="21.6" stroke="#e8e8e8" stroke-width="0.8"/>
<line x1="6.9" y1="20.0" x2="5.1" y2="22.8" stroke="#e8e8e8" stroke-width="0.8"/>
<line x1="9.4" y1="21.2" x2="7.6" y2="24.0" stroke="#e8e8e8" stroke-width="0.8"/>
<line x1="11.9" y1="22.4" x2="10.1" y2="25.2" stroke="#e8e8e8" stroke-width="0.8"/>
<line x1="14.4" y1="23.6" x2="12.6" y2="26.4" stroke="#e8e8e8" stroke-width="0.8"/>
<line x1="16.9" y1="24.8" x2="15.1" y2="27.6" stroke="#e8e8e8" stroke-width="0.8"/>
<path d="M3.8,1.6 Q3.9,-1.1 6.4,-0.4 L20.6,5.6 Q22.8,6.6 22.8,9 L22.8,22.6 Q22.8,25 20.4,24.2 L5.8,18.6 Q3.8,17.8 3.8,15.6 Z" fill="#e5e6e5" stroke="#666" stroke-width="1"/>
</g>
<line x1="385" y1="135.5" x2="323.5" y2="181" stroke="#333" stroke-width="1.4" stroke-dasharray="2.8 2.4"/>
<line x1="707" y1="269" x2="654.5" y2="313" stroke="#555" stroke-width="0.9" stroke-dasharray="2.6 2.2"/>
<line x1="199.5" y1="243" x2="199.5" y2="299.5" stroke="#555" stroke-width="1.0" stroke-dasharray="3.4 2.3"/>
<line x1="210.5" y1="234" x2="210.5" y2="290.5" stroke="#555" stroke-width="1.0" stroke-dasharray="3.4 2.3"/>
<line x1="243.5" y1="266" x2="243.5" y2="318.5" stroke="#555" stroke-width="1.0" stroke-dasharray="3.4 2.3"/>
<line x1="254.5" y1="257" x2="254.5" y2="309.5" stroke="#555" stroke-width="1.0" stroke-dasharray="3.4 2.3"/>
<line x1="533.5" y1="373" x2="533.5" y2="454.5" stroke="#555" stroke-width="1.0" stroke-dasharray="3.4 2.3"/>
<line x1="566.5" y1="408" x2="566.5" y2="481.5" stroke="#555" stroke-width="1.0" stroke-dasharray="3.4 2.3"/>
<line x1="577.5" y1="399" x2="577.5" y2="473" stroke="#555" stroke-width="1.0" stroke-dasharray="3.4 2.3"/>
<line x1="478" y1="181.5" x2="450" y2="204" stroke="#555" stroke-width="1.0" stroke-dasharray="2.6 2.2"/>
<line x1="492.5" y1="188.3" x2="464" y2="211" stroke="#555" stroke-width="1.0" stroke-dasharray="2.6 2.2"/>
<line x1="478" y1="229" x2="447" y2="253.5" stroke="#555" stroke-width="1.0" stroke-dasharray="2.6 2.2"/>
<line x1="492.3" y1="235.8" x2="462" y2="260" stroke="#555" stroke-width="1.0" stroke-dasharray="2.6 2.2"/>
<g transform="translate(199.5,309.3)"><path d="M-1.0,-7.4 L0,-8.8 L1.0,-7.4 L1.5,-2 L-1.5,-2 Z" fill="#222" stroke="#222" stroke-width="0.8"/><ellipse cx="0" cy="0.6" rx="3.8" ry="2.7" fill="#b8b8b8" stroke="#222" stroke-width="1.2"/><path d="M-3.4,-0.4 Q0,-3.6 3.4,-0.4" fill="#222" stroke="#222" stroke-width="0.8"/></g>
<g transform="translate(210.5,300.3)"><path d="M-1.0,-7.4 L0,-8.8 L1.0,-7.4 L1.5,-2 L-1.5,-2 Z" fill="#222" stroke="#222" stroke-width="0.8"/><ellipse cx="0" cy="0.6" rx="3.8" ry="2.7" fill="#b8b8b8" stroke="#222" stroke-width="1.2"/><path d="M-3.4,-0.4 Q0,-3.6 3.4,-0.4" fill="#222" stroke="#222" stroke-width="0.8"/></g>
<g transform="translate(243.5,328.3)"><path d="M-1.0,-7.4 L0,-8.8 L1.0,-7.4 L1.5,-2 L-1.5,-2 Z" fill="#222" stroke="#222" stroke-width="0.8"/><ellipse cx="0" cy="0.6" rx="3.8" ry="2.7" fill="#b8b8b8" stroke="#222" stroke-width="1.2"/><path d="M-3.4,-0.4 Q0,-3.6 3.4,-0.4" fill="#222" stroke="#222" stroke-width="0.8"/></g>
<g transform="translate(254.5,319.8)"><path d="M-1.0,-7.4 L0,-8.8 L1.0,-7.4 L1.5,-2 L-1.5,-2 Z" fill="#222" stroke="#222" stroke-width="0.8"/><ellipse cx="0" cy="0.6" rx="3.8" ry="2.7" fill="#b8b8b8" stroke="#222" stroke-width="1.2"/><path d="M-3.4,-0.4 Q0,-3.6 3.4,-0.4" fill="#222" stroke="#222" stroke-width="0.8"/></g>
<g transform="translate(522.5,473.3)"><path d="M-1.0,-7.4 L0,-8.8 L1.0,-7.4 L1.5,-2 L-1.5,-2 Z" fill="#222" stroke="#222" stroke-width="0.8"/><ellipse cx="0" cy="0.6" rx="3.8" ry="2.7" fill="#b8b8b8" stroke="#222" stroke-width="1.2"/><path d="M-3.4,-0.4 Q0,-3.6 3.4,-0.4" fill="#222" stroke="#222" stroke-width="0.8"/></g>
<g transform="translate(533.5,464.3)"><path d="M-1.0,-7.4 L0,-8.8 L1.0,-7.4 L1.5,-2 L-1.5,-2 Z" fill="#222" stroke="#222" stroke-width="0.8"/><ellipse cx="0" cy="0.6" rx="3.8" ry="2.7" fill="#b8b8b8" stroke="#222" stroke-width="1.2"/><path d="M-3.4,-0.4 Q0,-3.6 3.4,-0.4" fill="#222" stroke="#222" stroke-width="0.8"/></g>
<g transform="translate(566.5,491.8)"><path d="M-1.0,-7.4 L0,-8.8 L1.0,-7.4 L1.5,-2 L-1.5,-2 Z" fill="#222" stroke="#222" stroke-width="0.8"/><ellipse cx="0" cy="0.6" rx="3.8" ry="2.7" fill="#b8b8b8" stroke="#222" stroke-width="1.2"/><path d="M-3.4,-0.4 Q0,-3.6 3.4,-0.4" fill="#222" stroke="#222" stroke-width="0.8"/></g>
<g transform="translate(577.5,483.3)"><path d="M-1.0,-7.4 L0,-8.8 L1.0,-7.4 L1.5,-2 L-1.5,-2 Z" fill="#222" stroke="#222" stroke-width="0.8"/><ellipse cx="0" cy="0.6" rx="3.8" ry="2.7" fill="#b8b8b8" stroke="#222" stroke-width="1.2"/><path d="M-3.4,-0.4 Q0,-3.6 3.4,-0.4" fill="#222" stroke="#222" stroke-width="0.8"/></g>
<g transform="translate(483.5,177.4) rotate(-125)"><path d="M-1.1,-7 L0,-8.4 L1.1,-7 L1.5,-2 L-1.5,-2 Z" fill="#222" stroke="#222" stroke-width="0.8"/><ellipse cx="0" cy="0.4" rx="3.3" ry="3.0" fill="#bbb" stroke="#222" stroke-width="1.3"/><circle cx="0" cy="0.8" r="1.2" fill="#333"/></g>
<g transform="translate(498.3,183.8) rotate(-125)"><path d="M-1.1,-7 L0,-8.4 L1.1,-7 L1.5,-2 L-1.5,-2 Z" fill="#222" stroke="#222" stroke-width="0.8"/><ellipse cx="0" cy="0.4" rx="3.3" ry="3.0" fill="#bbb" stroke="#222" stroke-width="1.3"/><circle cx="0" cy="0.8" r="1.2" fill="#333"/></g>
<g transform="translate(483.5,224.7) rotate(-125)"><path d="M-1.1,-7 L0,-8.4 L1.1,-7 L1.5,-2 L-1.5,-2 Z" fill="#222" stroke="#222" stroke-width="0.8"/><ellipse cx="0" cy="0.4" rx="3.3" ry="3.0" fill="#bbb" stroke="#222" stroke-width="1.3"/><circle cx="0" cy="0.8" r="1.2" fill="#333"/></g>
<g transform="translate(497.8,231.4) rotate(-125)"><path d="M-1.1,-7 L0,-8.4 L1.1,-7 L1.5,-2 L-1.5,-2 Z" fill="#222" stroke="#222" stroke-width="0.8"/><ellipse cx="0" cy="0.4" rx="3.3" ry="3.0" fill="#bbb" stroke="#222" stroke-width="1.3"/><circle cx="0" cy="0.8" r="1.2" fill="#333"/></g>
</g>
<circle cx="383.6" cy="100" r="14.1" fill="#fff" stroke="#6c6c6c" stroke-width="1.7"/>
<text filter="url(#gaa)" x="383.6" y="106.3" text-anchor="middle" font-family="Liberation Sans, sans-serif" font-weight="bold" font-size="18.5" fill="#666" letter-spacing="-0.3">d3</text>
<circle cx="713" cy="242.4" r="14.1" fill="#fff" stroke="#6c6c6c" stroke-width="1.7"/>
<text filter="url(#gaa)" x="713" y="248.70000000000002" text-anchor="middle" font-family="Liberation Sans, sans-serif" font-weight="bold" font-size="18.5" fill="#666" letter-spacing="-0.3">d3</text>
<circle cx="413.5" cy="201" r="14.1" fill="#fff" stroke="#6c6c6c" stroke-width="1.7"/>
<text filter="url(#gaa)" x="413.5" y="207.3" text-anchor="middle" font-family="Liberation Sans, sans-serif" font-weight="bold" font-size="18.5" fill="#666" letter-spacing="-0.3">d5</text>
<circle cx="500.9" cy="162.7" r="14.1" fill="#fff" stroke="#6c6c6c" stroke-width="1.7"/>
<text filter="url(#gaa)" x="500.9" y="169.0" text-anchor="middle" font-family="Liberation Sans, sans-serif" font-weight="bold" font-size="18.5" fill="#666" letter-spacing="-0.3">s6</text>
<circle cx="226" cy="316" r="14.1" fill="#fff" stroke="#6c6c6c" stroke-width="1.7"/>
<text filter="url(#gaa)" x="226" y="322.3" text-anchor="middle" font-family="Liberation Sans, sans-serif" font-weight="bold" font-size="18.5" fill="#666" letter-spacing="-0.3">s6</text>
<circle cx="548.8" cy="480.4" r="14.1" fill="#fff" stroke="#6c6c6c" stroke-width="1.7"/>
<text filter="url(#gaa)" x="548.8" y="486.7" text-anchor="middle" font-family="Liberation Sans, sans-serif" font-weight="bold" font-size="18.5" fill="#666" letter-spacing="-0.3">s6</text>
<circle cx="225.7" cy="201" r="14.1" fill="#fff" stroke="#6c6c6c" stroke-width="1.7"/>
<text filter="url(#gaa)" x="225.7" y="207.3" text-anchor="middle" font-family="Liberation Sans, sans-serif" font-weight="bold" font-size="18.5" fill="#666" letter-spacing="-0.3">d6</text>
<circle cx="548.3" cy="345.8" r="14.1" fill="#fff" stroke="#6c6c6c" stroke-width="1.7"/>
<text filter="url(#gaa)" x="548.3" y="352.1" text-anchor="middle" font-family="Liberation Sans, sans-serif" font-weight="bold" font-size="18.5" fill="#666" letter-spacing="-0.3">d6</text>
<rect x="72.5" y="424.5" width="188" height="151.7" rx="15" ry="15" fill="#fff" stroke="#777" stroke-width="1.1"/>
<circle cx="84" cy="430.4" r="13.6" fill="#fff" stroke="#6c6c6c" stroke-width="1.7"/>
<text filter="url(#gaa)" x="84" y="436.7" text-anchor="middle" font-family="Liberation Sans, sans-serif" font-weight="bold" font-size="18.5" fill="#666" letter-spacing="-0.3">d3</text>
<path d="M211.8,447.8 L221,460.2 M221,447.8 L211.8,460.2" fill="none" stroke="#444" stroke-width="1.2"/>
<path d="M226.8,445.2 C227,439.8 231,436.7 236.2,436.7 C241.5,436.7 245.2,440 245.2,445 C245.2,449.5 242.5,453 238,457.5 L227.8,467.2 L246.8,467.2" fill="none" stroke="#3c3c3c" stroke-width="1.7"/>
<g stroke="#6f6f6f" stroke-width="0.9" stroke-linejoin="round">
<path d="M144.8,456 L145.8,454 L176.8,453.2 L177.2,456 L175,461.8 L172.5,463.8 L155.6,464.6 L155.6,468 Q147,464 144.8,457.4 Z" fill="#e3e3e3"/>
<path d="M145.8,454 L176.8,453.2" stroke="#555" stroke-width="1.2" fill="none"/>
<path d="M155.5,464.6 L186.2,463.2 L186.6,466 L156.3,466.4 Z" fill="#ececec"/>
<path d="M156.3,466.4 L186.6,466 L187.5,469.3 L158,470.2 Z" fill="#f2f2f2"/>
<path d="M158,470.2 L184.5,469.7 L182.8,473.2 L160.6,473.7 Z" fill="#e4e4e4"/>
<path d="M160.6,473.7 L182.8,473.2 L181.5,477 Q173,481 164.9,477.9 Z" fill="#ededed"/>
</g>
<g stroke="#707070" stroke-width="0.9" stroke-linejoin="round">
<path d="M121.4,524 L135.1,537.7 L135.1,548.5 L121.4,535.5 Z" fill="#dcdcdc"/>
<path d="M135.1,537.7 L211.6,533.4 L211.6,545.6 L135.1,548.5 Z" fill="#e3e3e3"/>
<path d="M121.4,524 L137,517 L203,519 L211.6,533.4 L135.1,537.7 Z" fill="#efefef"/>
<path d="M122.5,519 L135,511.5 L143.5,513 L143.5,530 L136,528.5 Z" fill="#e6e6e6"/>
<path d="M123.5,510 L135,503 L143.5,505 L143.5,519 L136,517.5 Z" fill="#e9e9e9"/>
<path d="M124.3,504.5 L133.6,499.4 L146,498.7 L148.2,508 L143,511.7 L131.5,512.4 Z" fill="#ebebeb"/>
<path d="M133.6,499.4 L143,511.5 M136,499.2 L144.5,510.5" fill="none" stroke-width="0.7"/>
<path d="M190,498 L198.5,502.3 L208,510.3 L200,507 Z" fill="#ebebeb"/>
<path d="M200,512.5 L208,518.2 L200,516 Z M200,521 L208,527.6 L200,525 Z" fill="#ebebeb"/>
<path d="M143,508.8 L156,508.5 L156,512.5 L190,512 L190,507 L200,506.7 L200,531.2 L143,534 Z" fill="#e9e9e9"/>
<path d="M144.5,515.3 L200,513 M144.5,519.7 L200,517.4 M144.5,524.7 L200,522.3 M144.5,528.3 L200,526 M143,531.2 L200,528.9" fill="none" stroke-width="0.7"/>
<path d="M143,508.8 L146,508.2 L156,508.4 L156,511 L144.5,511.5 Z M187,507.6 L199.5,507 L200,510 L187,510.6 Z" fill="#f3f3f3"/>
<path d="M157.5,513.6 C163,512.5 172.5,507 175,498.8 L189.5,497.8 L189.5,508 C187,515 181,521 176,523.6 L163,524 C160.5,521 158.5,517.5 157.5,513.6 Z" fill="#e2e2e2"/>
<path d="M175,498.8 C176.5,497.4 178.5,496.8 180,497 L189.5,497.8" fill="none"/>
</g>
</svg></body></html>
